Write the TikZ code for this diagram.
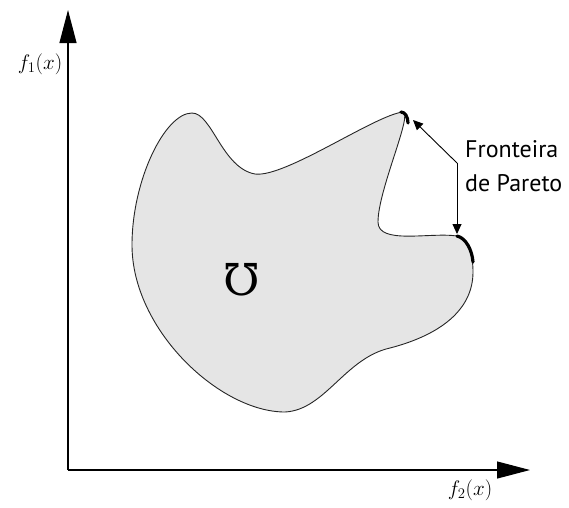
\RequirePackage{fix-cm}
\documentclass[tikz,border=0pt]{standalone}
\usepackage{fontspec}
\usepackage{amsmath}
\usetikzlibrary{arrows.meta,calc}
\newfontfamily\labelfont{PT Sans}
\newfontfamily\symbfont{DejaVu Serif}
\definecolor{RegionGray}{HTML}{E5E5E5}

\begin{document}
\begin{tikzpicture}[
    x=1pt, y=-1pt,
    axisarrow/.style={
      -{Triangle[length=33pt,width=17pt]},
      line width=1.1pt,
      black
    },
    regionfill/.style={
      fill=RegionGray,
      draw=black!85,
      line width=0.9pt
    },
    paretoline/.style={
      line width=3.2pt,
      black,
      line cap=round
    },
    annotarrow/.style={
      -{Triangle[length=10pt,width=9pt]},
      line width=0.9pt
    },
    axislabel/.style={
      font=\fontsize{21}{24}\selectfont,
      inner sep=0pt
    }
  ]
  \useasboundingbox (0,0) rectangle (569,507);

  % pontos do contorno
  \coordinate (peakL) at (192,113);
  \coordinate (valley) at (255,174);
  \coordinate (peakR) at (403,112);
  \coordinate (notch) at (378,222);
  \coordinate (paretoB) at (457,236);
  \coordinate (bulge) at (473,272);
  \coordinate (waist) at (390,348);
  \coordinate (bottom) at (285,412);
  \coordinate (leftmost) at (132,245);

  % regiao viavel
  \draw[regionfill] (peakL)
    .. controls (212,113) and (222,168) .. (valley)
    .. controls (285,178) and (375,115) .. (peakR)
    .. controls (413,114) and (378,190) .. (notch)
    .. controls (378,245) and (430,232) .. (paretoB)
    .. controls (467,238) and (473,252) .. (bulge)
    .. controls (473,310) and (440,335) .. (waist)
    .. controls (345,358) and (325,410) .. (bottom)
    .. controls (220,412) and (132,330) .. (leftmost)
    .. controls (132,180) and (165,113) .. (peakL) -- cycle;

  % trechos da fronteira
  \draw[paretoline] (401,112) .. controls (405,112) and (408,117) .. (408,123);
  \draw[paretoline] (paretoB) .. controls (466,238) and (472,250) .. (473,262);

  % eixos
  \coordinate (origin) at (68,470);
  \coordinate (ytip) at (68,10);
  \coordinate (xtip) at (530,470);
  \draw[axisarrow] (origin) -- (ytip);
  \draw[axisarrow] (origin) -- (xtip);
  \node[axislabel] (fone) at (40,64) {$f_1(x)$};
  \node[axislabel] (ftwo) at (470,490) {$f_2(x)$};

  % rotulos
  \node[font=\symbfont\fontsize{44}{44}\selectfont, inner sep=0pt] (omega) at (242,280) {℧};
  \node[font=\labelfont\fontsize{24}{34}\selectfont, align=left, anchor=west, inner sep=0pt]
    (front) at (465,166) {Fronteira\\de Pareto};

  \coordinate (junc) at (457,163);
  \draw[annotarrow] (junc) -- ($(peakR)+(10,8)$);
  \draw[annotarrow] (junc) -- ($(paretoB)+(0,-2)$);
\end{tikzpicture}
\end{document}
